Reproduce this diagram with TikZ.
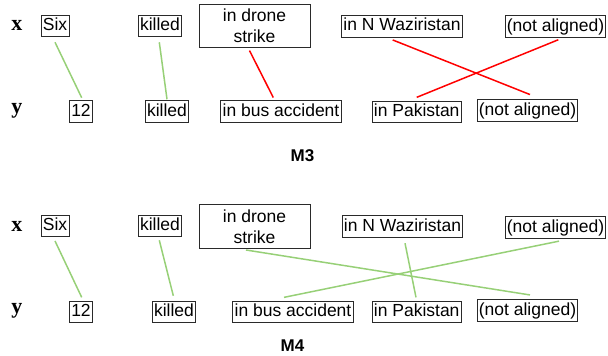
\documentclass[tikz,border=0pt]{standalone}
\usepackage{fontspec}
\setmainfont{Liberation Sans}
\newfontfamily\serifbold{Liberation Serif}
\usetikzlibrary{calc}
\definecolor{lgreen}{HTML}{97D077}
\definecolor{boxline}{HTML}{2A2A2A}
\tikzset{
  word/.style={draw=boxline, line width=0.9pt, inner xsep=1.8pt, inner ysep=2.6pt,
    text height=12.8pt, text depth=3.6pt, font=\fontsize{17.5}{20.3}\selectfont},
  bigword/.style={draw=boxline, line width=0.9pt, inner sep=0pt, minimum width=111pt,
    minimum height=43.7pt, align=center, font=\fontsize{17.5}{20.3}\selectfont},
  rowlab/.style={font=\serifbold\bfseries\fontsize{22}{24}\selectfont, inner sep=0pt},
  title/.style={font=\bfseries\fontsize{17}{19}\selectfont, inner sep=0pt},
  gline/.style={draw=lgreen, line width=1.5pt},
  rline/.style={draw=red, line width=1.5pt}
}
\begin{document}
\begin{tikzpicture}[x=1pt,y=-1pt]
\useasboundingbox (0,0) rectangle (608,356);
% ---------- M3 ----------
\node[rowlab] (xa) at (17,25.5) {x};
\node[rowlab] (ya) at (17,111) {y};
\node[word] (a1) at (55,26) {Six};
\node[word] (a2) at (160,26) {killed};
\node[bigword] (a3) at (254.5,25.8) {in drone\\strike};
\node[word] (a4) at (402,26.2) {in N Waziristan};
\node[word] (a5) at (555.5,26.5) {(not aligned)};
\node[word] (b1) at (81,111.5) {12};
\node[word] (b2) at (167,111.5) {killed};
\node[word] (b3) at (281,111.5) {in bus accident};
\node[word] (b4) at (416.7,112) {in Pakistan};
\node[word] (b5) at (527.5,110.5) {(not aligned)};
\node[title] (m3) at (302.5,155.5) {M3};
\draw[gline] ($(a1.south)+(0,5)$) -- ($(b1.north)+(0.7,-2.5)$);
\draw[gline] ($(a2.south)+(-0.7,5)$) -- ($(b2.north)+(0,-1)$);
\draw[rline] ($(a3.south)+(-5,2.5)$) -- ($(b3.north)+(-7.7,-2.7)$);
\draw[rline] ($(a4.south)+(-9.3,2.5)$) -- ($(b5.north)+(2.5,-4.7)$);
\draw[rline] ($(a5.south)+(2.8,2)$) -- ($(b4.north)+(0,-3.4)$);
% ---------- M4 ----------
\node[rowlab] (xb) at (17,226.5) {x};
\node[rowlab] (yb) at (17,311) {y};
\node[word] (c1) at (55,226) {Six};
\node[word] (c2) at (160,226) {killed};
\node[bigword] (c3) at (254.5,226.7) {in drone\\strike};
\node[word] (c4) at (402.5,226.5) {in N Waziristan};
\node[word] (c5) at (555.5,227.5) {(not aligned)};
\node[word] (d1) at (81,312) {12};
\node[word] (d2) at (174,312) {killed};
\node[word] (d3) at (293,312) {in bus accident};
\node[word] (d4) at (416.7,312) {in Pakistan};
\node[word] (d5) at (527.5,310.5) {(not aligned)};
\node[title] (m4) at (292.5,346) {M4};
\draw[gline] ($(c1.south)+(0,3.7)$) -- ($(d1.north)+(0.7,-3.4)$);
\draw[gline] ($(c2.south)+(-0.7,3)$) -- ($(d2.north)+(-0.7,-5)$);
\draw[gline] ($(c3.south)+(-8.5,1)$) -- ($(d5.north)+(2.5,-4.3)$);
\draw[gline] ($(d3.north)+(-9,-3.4)$) -- ($(c5.south)+(3.5,2.4)$);
\draw[gline] ($(c4.south)+(2.5,5.4)$) -- ($(d4.north)+(-0.7,-3.4)$);
\end{tikzpicture}
\end{document}
